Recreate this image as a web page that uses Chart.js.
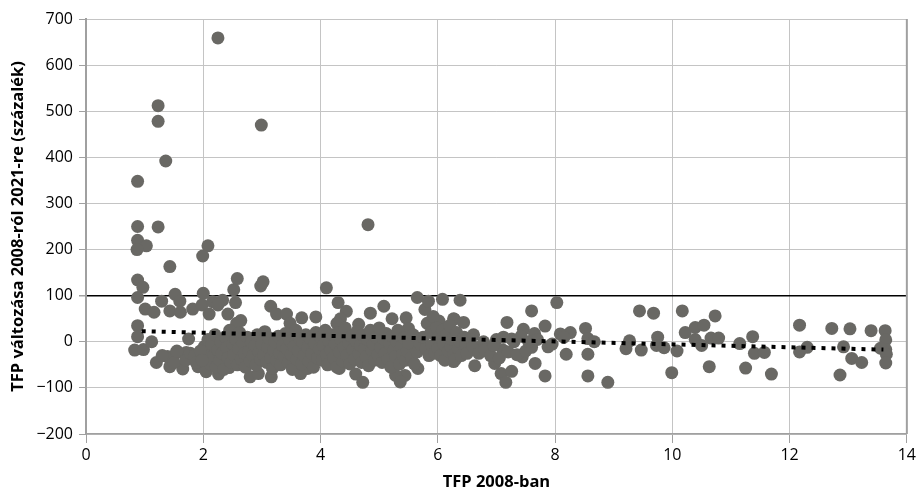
<!DOCTYPE html>
<html>
<head>
<meta charset="utf-8">
<script src="https://cdn.jsdelivr.net/npm/chart.js@4.4.1/dist/chart.umd.min.js"></script>
<style>
  html, body { margin: 0; padding: 0; background: #fff; }
  #wrap { width: 919px; height: 494px; }
</style>
</head>
<body>
<div id="wrap"><canvas id="myChart"></canvas></div>
<script>
// scatter values: TFP 2008 (x) and change 2008-2021 in % (y)
const tfpX = [
  2.25, 1.23, 1.23, 1.36, 0.88, 2.99, 0.88, 1.23, 4.81, 0.88, 1.03, 2.08, 0.87,
  1.99, 1.43, 0.88, 0.97, 0.88, 1.01, 1.16, 1.29, 1.43, 1.52, 1.60, 1.61, 1.82, 1.75,
  0.88, 0.88, 0.83, 0.98, 1.12, 1.20, 1.39, 1.43, 1.54, 1.65, 1.71, 1.91, 2.05,
  2.00, 1.98, 2.10, 2.16, 2.33, 2.25, 2.42, 2.52, 2.58, 2.55, 2.64, 2.57,
  2.26, 2.44, 2.80, 2.94, 3.16, 2.98, 3.02, 3.15, 3.25, 3.42, 3.48, 3.68, 3.92, 4.10,
  3.66, 3.78, 4.30, 4.44, 4.34, 4.28, 4.65, 4.85, 5.08, 5.22, 5.46, 5.50, 5.65, 5.64,
  5.66, 5.44, 5.28, 5.36, 4.60, 4.72, 4.32, 5.78, 5.84, 6.08, 6.02, 6.27,
  6.38, 6.28, 6.44, 6.31, 6.27, 6.44, 6.61, 6.63, 6.75, 6.84, 7.00, 6.97, 7.08, 7.16,
  7.18, 7.11, 7.26, 7.26, 7.46, 7.60, 7.65, 7.44, 7.66, 7.60, 7.83, 7.83, 7.88, 8.03,
  8.09, 8.26, 8.19, 8.52, 8.56, 8.67, 8.56, 8.56, 8.90, 9.27, 9.21, 9.44, 9.47, 9.68,
  9.75, 9.73, 9.86, 9.99, 10.08, 10.17, 10.22, 10.39, 10.39, 10.54, 10.50, 10.63, 10.66,
  10.79, 10.73, 11.15, 11.37, 11.40, 11.57, 11.25, 11.69, 12.17, 12.17, 12.30, 12.72,
  12.92, 12.86, 13.03, 13.06, 13.23, 13.39, 13.63, 13.64, 13.64, 13.55, 13.65, 13.64,
  2.02, 2.05, 2.08, 2.10, 2.12, 2.15, 2.18, 2.20, 2.22, 2.25, 2.28, 2.30, 2.32, 2.35,
  2.38, 2.40, 2.42, 2.45, 2.47, 2.50, 2.52, 2.55, 2.58, 2.60, 2.62, 2.65, 2.68, 2.70,
  2.72, 2.75, 2.78, 2.80, 2.82, 2.85, 2.88, 2.90, 2.92, 2.95, 2.98,
  3.00, 3.03, 3.05, 3.08, 3.10, 3.12, 3.15, 3.18, 3.20, 3.22, 3.25, 3.28, 3.30, 3.32,
  3.35, 3.38, 3.40, 3.42, 3.45, 3.48, 3.50, 3.52, 3.55, 3.58, 3.60, 3.62, 3.65, 3.68,
  3.70, 3.72, 3.75, 3.78, 3.80, 3.82, 3.85, 3.88, 3.90, 3.92, 3.95, 3.98,
  4.00, 4.03, 4.05, 4.08, 4.10, 4.12, 4.15, 4.18, 4.20, 4.22, 4.25, 4.28, 4.30, 4.32,
  4.35, 4.38, 4.40, 4.42, 4.45, 4.48, 4.50, 4.52, 4.55, 4.58, 4.60, 4.62, 4.65, 4.68,
  4.70, 4.72, 4.75, 4.78, 4.80, 4.82, 4.85, 4.88, 4.90, 4.92, 4.95, 4.98,
  5.00, 5.03, 5.05, 5.08, 5.10, 5.12, 5.15, 5.18, 5.20, 5.22, 5.25, 5.28, 5.30, 5.32,
  5.35, 5.38, 5.40, 5.42, 5.45, 5.48, 5.50, 5.55, 5.58, 5.60, 5.65, 5.70, 5.75, 5.80,
  5.82, 5.85, 5.88, 5.90, 5.92, 5.95, 5.98,
  6.00, 6.02, 6.05, 6.08, 6.10, 6.12, 6.15, 6.18, 6.20, 6.22, 6.25, 6.28, 6.30, 6.32,
  6.35, 6.38, 6.40, 6.45, 6.48, 6.50, 6.55, 6.60, 6.70, 6.78, 6.80, 6.90, 6.95,
  7.05, 7.12, 7.20, 7.30, 7.35, 7.42, 7.50, 7.55, 7.70, 7.95, 8.15,
  1.30, 1.50, 1.55, 1.70, 1.78, 1.85, 1.88, 1.95, 1.98
];
const tfpChange = [
  659, 512, 478, 392, 348, 470, 250, 249, 254, 220, 208, 208, 200,
  186, 163, 134, 118, 96, 71, 64, 88, 67, 103, 88, 64, 71, 6,
  35, 11, -18, -17, 0, -45, -32, -54, -24, -59, -23, -54, -65,
  105, 80, 60, 87, 90, 80, 60, 113, 137, 85, 46, 40,
  -70, -56, -76, -69, -76, 121, 130, 77, 60, 60, 40, 52, 54, 117,
  -69, -58, 85, 66, 50, 40, 38, 62, 77, 50, 52, 29, 96, -11,
  -58, -73, -73, -87, -70, -88, -58, 70, 88, 92, 45, 50,
  90, 49, 42, 11, -43, -19, 15, -52, -11, -20, 5, -47, -69, -88,
  42, -18, -64, 6, 27, 67, 18, -33, -47, -12, -74, 34, -11, 85,
  17, 20, -27, 29, 7, 0, -27, -74, -88, 2, -15, 67, -18, 62,
  10, -8, -13, -67, -20, 67, 20, 31, 5, 36, -8, -54, 8,
  8, 56, -4, 11, -25, -23, -57, -70, 36, -22, -12, 29,
  -11, -72, 28, -36, -45, 24, 24, 4, -17, -14, -27, -46,
  -10, -35, 5, -22, -48, -5, -30, 15, -55, -18, -40, 0, -25, -60,
  10, -12, -35, 25, -45, -5, -28, 5, -50, -15, 20, -38, -2, -25,
  -55, 10, -20, -42, 0, -30, -8, -50, 15, -22, -38,
  -5, -28, 22, -45, -12, 8, -35, -58, -18, 0, -40, 12, -25, -50,
  -8, -32, 18, -15, -45, 2, -28, -60, -10, 25, -38, -20, 5, -48,
  -2, -30, 15, -12, -42, 8, -25, -55, -5, 20, -35, -15,
  10, -40, -8, 25, -28, -50, 0, -18, 15, -35, -5, -55, 20, -22,
  5, -42, -12, 30, -30, -2, -48, 12, -18, -38, 2, 22, -25, -8,
  -45, 15, -15, -32, 5, -52, 25, -20, -5, -40, 10, -28,
  30, -12, -45, 5, -25, 18, -38, -5, -55, 12, -18, -32, 0, 25,
  -48, -10, -28, 8, -40, -20, -2, -35, 15, -48, -22, -5, 10, -15,
  40, -30, 20, -8, 55, -25, 30,
  -15, 10, -30, 25, -5, -40, 15, -20, 35, -10, 5, -28, -38, 20,
  -15, 0, -30, 10, -5, -25, 5, -10, -25, 0, -18, -30, -8,
  -35, 10, -22, 0, -28, 12, -20, 0, 5, -5, 10,
  -30, -45, -20, -40, -25, -30, -45, -20, -40
];
// linear trend, end points
const trendX = [0.95, 13.6];
const trendY = [23, -17];
// tick labels
const xTicks = [0, 2, 4, 6, 8, 10, 12, 14];
const yTicks = [-200, -100, 0, 100, 200, 300, 400, 500, 600, 700];

const fontFamily = '"Open Sans", "Noto Sans", sans-serif';
const tickLabel = v => (v < 0 ? '\u2212' + Math.abs(v) : String(v));

const points = tfpX.map((x, i) => ({ x: x, y: tfpChange[i] }));
const trend = trendX.map((x, i) => ({ x: x, y: trendY[i] }));

const ctx = document.getElementById('myChart').getContext('2d');
const myChart = new Chart(ctx, {
    type: 'scatter',
    data: {
        datasets: [{
            label: 'trend',
            type: 'line',
            data: trend,
            borderColor: '#000',
            borderWidth: 4,
            borderDash: [4, 6],
            borderCapStyle: 'butt',
            pointRadius: 0,
            fill: false,
            order: 0
        }, {
            label: 'TFP',
            data: points,
            backgroundColor: '#696864',
            borderWidth: 0,
            pointRadius: 6.5,
            order: 1
        }]
    },
    options: {
        responsive: true,
        maintainAspectRatio: false,
        animation: false,
        layout: { padding: { left: 0, right: 9, top: 19, bottom: 0 } },
        scales: {
            x: {
                type: 'linear',
                min: 0,
                max: 14,
                afterBuildTicks: s => { s.ticks = xTicks.map(v => ({ value: v })); },
                afterFit: s => { s.height = 60; },
                ticks: {
                    callback: tickLabel,
                    color: '#000',
                    padding: 3,
                    font: { family: fontFamily, size: 16 }
                },
                grid: { color: '#c4c4c4', lineWidth: 1, tickLength: 9, tickColor: '#a0a0a0' },
                border: { color: '#a0a0a0', width: 1.5 },
                title: {
                    display: true,
                    text: 'TFP 2008-ban',
                    color: '#000',
                    padding: { top: 0, bottom: 2 },
                    font: { family: fontFamily, size: 16.5, weight: 'bold' }
                }
            },
            y: {
                type: 'linear',
                min: -200,
                max: 700,
                afterBuildTicks: s => { s.ticks = yTicks.map(v => ({ value: v })); },
                afterFit: s => { s.width = 86; },
                ticks: {
                    callback: tickLabel,
                    color: '#000',
                    padding: 6,
                    font: { family: fontFamily, size: 16 }
                },
                grid: {
                    color: c => (c.tick && c.tick.value === 100 ? '#000' : '#c4c4c4'),
                    lineWidth: c => (c.tick && c.tick.value === 100 ? 1.5 : 1),
                    tickLength: 7,
                    tickColor: '#a0a0a0'
                },
                border: { color: '#a0a0a0', width: 2 },
                title: {
                    display: true,
                    text: 'TFP változása 2008-ról 2021-re (százalék)',
                    color: '#000',
                    padding: { top: 8, bottom: 8 },
                    font: { family: fontFamily, size: 16.5, weight: 'bold' }
                }
            }
        },
        plugins: {
            legend: { display: false },
            tooltip: { enabled: false }
        }
    },
    plugins: [{
        // right edge of the plot frame
        id: 'frame',
        afterDraw(chart) {
            const a = chart.chartArea;
            const c = chart.ctx;
            c.save();
            c.strokeStyle = '#a0a0a0';
            c.lineWidth = 2;
            c.beginPath();
            c.moveTo(a.right, a.top);
            c.lineTo(a.right, a.bottom);
            c.stroke();
            c.restore();
        }
    }]
});
</script>
</body>
</html>
